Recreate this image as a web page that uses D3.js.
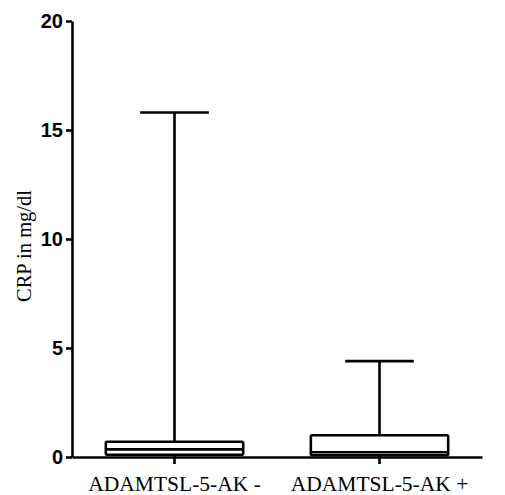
<!DOCTYPE html>
<html><head><meta charset="utf-8">
<script src="https://cdn.jsdelivr.net/npm/d3@7"></script>
<style>body{margin:0;background:#fff}svg{display:block}</style>
</head><body>
<svg id="c" width="505" height="495"></svg>
<script>
const categories = ["ADAMTSL-5-AK -", "ADAMTSL-5-AK +"];
const whiskerMin = [0, 0];
const q1 = [0.1, 0.08];
const median = [0.35, 0.22];
const q3 = [0.7, 1.0];
const whiskerMax = [15.8, 4.4];
const yTicks = [0, 5, 10, 15, 20];

const svg = d3.select("#c");
const x = d3.scaleBand().domain(categories).range([72, 482]).padding(0);
const y = d3.scaleLinear().domain([0, 20]).range([457, 21]);
const boxW = x.bandwidth() * 0.67;
const capW = boxW / 2;
const sw = 2.6;

// y axis
const yAxis = svg.append("g").attr("transform", "translate(72,0)")
  .call(d3.axisLeft(y).tickValues(yTicks).tickSize(6).tickSizeOuter(0).tickPadding(3));
yAxis.select(".domain").attr("stroke-width", sw).attr("stroke", "#000");
yAxis.selectAll(".tick line").attr("stroke-width", sw);
yAxis.selectAll(".tick text").attr("font-family", "Liberation Sans, Arial, sans-serif")
  .attr("font-weight", "bold").attr("font-size", 20).attr("fill", "#000");

// x axis
const xAxis = svg.append("g").attr("transform", "translate(0,457)")
  .call(d3.axisBottom(x).tickSize(7).tickSizeOuter(0).tickPadding(11));
xAxis.select(".domain").attr("stroke-width", sw).attr("stroke", "#000");
xAxis.selectAll(".tick line").attr("stroke-width", sw);
xAxis.selectAll(".tick text").attr("font-family", "Liberation Serif, Times New Roman, serif")
  .attr("font-size", 21.5).attr("fill", "#000").attr("dy", "0.75em");

// y label
svg.append("text")
  .attr("transform", "translate(31,246) rotate(-90)")
  .attr("text-anchor", "middle")
  .attr("font-family", "Liberation Serif, Times New Roman, serif")
  .attr("font-size", 20.5).attr("fill", "#000")
  .text("CRP in mg/dl");

const data = categories.map((c, i) => ({c, lo: whiskerMin[i], q1: q1[i], med: median[i], q3: q3[i], hi: whiskerMax[i]}));
const g = svg.append("g").selectAll("g").data(data).join("g");
g.each(function(d) {
  const s = d3.select(this);
  const cx = x(d.c) + x.bandwidth() / 2;
  s.append("line").attr("x1", cx).attr("x2", cx).attr("y1", y(d.q3)).attr("y2", y(d.hi))
    .attr("stroke", "#000").attr("stroke-width", sw);
  s.append("line").attr("x1", cx - capW / 2).attr("x2", cx + capW / 2).attr("y1", y(d.hi)).attr("y2", y(d.hi))
    .attr("stroke", "#000").attr("stroke-width", sw);
  s.append("line").attr("x1", cx).attr("x2", cx).attr("y1", y(d.q1)).attr("y2", y(d.lo))
    .attr("stroke", "#000").attr("stroke-width", sw);
  s.append("rect").attr("x", cx - boxW / 2).attr("width", boxW)
    .attr("y", y(d.q3)).attr("height", y(d.q1) - y(d.q3))
    .attr("rx", 1.5).attr("fill", "#fff").attr("stroke", "#000").attr("stroke-width", sw);
  s.append("line").attr("x1", cx - boxW / 2).attr("x2", cx + boxW / 2).attr("y1", y(d.med)).attr("y2", y(d.med))
    .attr("stroke", "#000").attr("stroke-width", sw);
});
</script>
</body></html>
